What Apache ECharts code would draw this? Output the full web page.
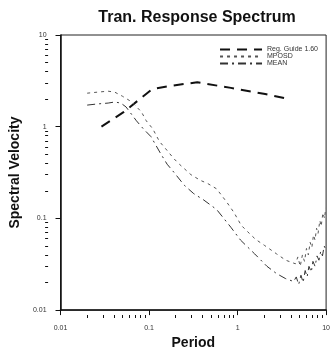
<!DOCTYPE html>
<html>
<head>
<meta charset="utf-8">
<title>Tran. Response Spectrum</title>
<script src="https://cdn.jsdelivr.net/npm/echarts@6/dist/echarts.min.js"></script>
<style>
  html, body { margin: 0; padding: 0; background: #fff; }
</style>
</head>
<body>
<div id="main" style="width:333px;height:355px;"></div>
<script type="text/javascript">
// Reg. Guide 1.60 design spectrum
var regPeriod = [0.029, 0.052, 0.076, 0.108, 0.17, 0.35, 0.84, 2.05, 3.8];
var regValue  = [1.0, 1.45, 1.95, 2.56, 2.78, 3.05, 2.65, 2.27, 2.0];

// mean plus one standard deviation
var mposdPeriod = [0.020, 0.026, 0.0345, 0.041, 0.050, 0.064, 0.082, 0.093, 0.110, 0.131,
  0.160, 0.19, 0.22, 0.297, 0.38, 0.46, 0.58, 0.76, 0.91, 1.10, 1.31, 1.60, 2.0, 2.76, 3.5, 4.5,
  4.8, 5.1, 5.4, 5.7, 6.0, 6.3, 6.6, 6.9, 7.2, 7.5, 7.8, 8.1, 8.5, 8.8, 9.2, 9.6, 9.9];
var mposdValue = [2.32, 2.38, 2.44, 2.38, 2.15, 1.86, 1.45, 1.16, 0.95, 0.69,
  0.55, 0.45, 0.39, 0.30, 0.26, 0.24, 0.21, 0.149, 0.116, 0.084, 0.071, 0.059, 0.051, 0.041, 0.035, 0.032,
  0.038, 0.030, 0.040, 0.034, 0.047, 0.040, 0.055, 0.048, 0.066, 0.058, 0.078, 0.068, 0.095, 0.082, 0.115, 0.10, 0.13];

// mean
var meanPeriod = [0.020, 0.026, 0.0345, 0.041, 0.048, 0.055, 0.072, 0.086, 0.105, 0.135,
  0.16, 0.19, 0.25, 0.32, 0.41, 0.58, 0.71, 0.84, 1.08, 1.56, 2.15, 2.76, 3.5, 4.3,
  4.6, 4.9, 5.2, 5.5, 5.8, 6.1, 6.4, 6.8, 7.1, 7.5, 7.9, 8.3, 8.7, 9.1, 9.5, 9.9];
var meanValue = [1.72, 1.77, 1.81, 1.86, 1.81, 1.64, 1.16, 0.95, 0.78, 0.51,
  0.39, 0.32, 0.23, 0.186, 0.16, 0.125, 0.098, 0.080, 0.058, 0.041, 0.030, 0.025, 0.022, 0.0205,
  0.023, 0.019, 0.024, 0.020, 0.027, 0.023, 0.030, 0.026, 0.034, 0.030, 0.039, 0.035, 0.044, 0.039, 0.050, 0.046];

// minor tick positions (log decades 0.01 .. 10)
var minorTicks = [];
[0.01, 0.1, 1].forEach(function (d) {
  for (var k = 2; k <= 9; k++) minorTicks.push(+(d * k).toPrecision(3));
});

function pairs(xs, ys) {
  return xs.map(function (x, i) { return [x, ys[i]]; });
}

var myChart = echarts.init(document.getElementById('main'));

var gridLeft = 53, gridRight = 2, gridTop = 35, gridBottom = 40;
var plotW = 333 - gridLeft - gridRight;
var plotH = 355 - gridTop - gridBottom;

var labelFont = { fontSize: 7, color: '#333', fontFamily: 'Liberation Sans' };

option = {
  animation: false,
  title: {
    text: 'Tran. Response Spectrum',
    left: 192,
    textAlign: 'center',
    top: 5,
    textStyle: { fontSize: 16, fontWeight: 'bold', color: '#111', fontFamily: 'Liberation Sans' }
  },
  legend: {
    orient: 'vertical',
    right: 10,
    top: 41,
    itemWidth: 42,
    itemHeight: 7,
    itemGap: 0,
    itemStyle: { opacity: 0 },
    textStyle: { fontSize: 7, color: '#333', fontFamily: 'Liberation Sans' },
    data: ['Reg. Guide 1.60', 'MPOSD', 'MEAN']
  },
  grid: {
    left: gridLeft, right: gridRight, top: gridTop, bottom: gridBottom,
    show: true, borderColor: '#222', borderWidth: 1
  },
  xAxis: [{
    type: 'log', min: 0.01, max: 10, logBase: 10,
    name: 'Period', nameLocation: 'middle', nameGap: 22,
    nameTextStyle: { fontSize: 14, fontWeight: 'bold', color: '#111', fontFamily: 'Liberation Sans' },
    axisLine: { lineStyle: { color: '#111', width: 1.5 } },
    axisTick: { length: 5, lineStyle: { color: '#111' } },
    axisLabel: Object.assign({ margin: 14 }, labelFont),
    splitLine: { show: false }
  }, {
    // minor ticks: a top axis pulled down onto the bottom edge
    type: 'log', min: 0.01, max: 10, logBase: 10, position: 'top', offset: -plotH,
    axisLine: { show: false },
    axisLabel: { show: false },
    axisTick: { show: true, inside: true, length: 3, customValues: minorTicks, lineStyle: { color: '#111' } },
    splitLine: { show: false }
  }],
  yAxis: [{
    type: 'log', min: 0.01, max: 10, logBase: 10,
    name: 'Spectral Velocity', nameLocation: 'middle', nameGap: 30,
    nameTextStyle: { fontSize: 14, fontWeight: 'bold', color: '#111', fontFamily: 'Liberation Sans' },
    axisLine: { lineStyle: { color: '#111', width: 1.5 } },
    axisTick: { length: 5, lineStyle: { color: '#111' } },
    axisLabel: Object.assign({ margin: 14 }, labelFont),
    splitLine: { show: false }
  }, {
    // minor ticks: a right axis pulled over onto the left edge
    type: 'log', min: 0.01, max: 10, logBase: 10, position: 'right', offset: -plotW,
    axisLine: { show: false },
    axisLabel: { show: false },
    axisTick: { show: true, inside: true, length: 3, customValues: minorTicks, lineStyle: { color: '#111' } },
    splitLine: { show: false }
  }],
  series: [{
    name: 'Reg. Guide 1.60',
    type: 'line',
    symbol: 'none',
    data: pairs(regPeriod, regValue),
    lineStyle: { color: '#111', width: 2, type: [10, 7] },
    itemStyle: { color: '#111' }
  }, {
    name: 'MPOSD',
    type: 'line',
    symbol: 'none',
    data: pairs(mposdPeriod, mposdValue),
    lineStyle: { color: '#555', width: 1, type: [3, 4] },
    itemStyle: { color: '#555' }
  }, {
    name: 'MEAN',
    type: 'line',
    symbol: 'none',
    data: pairs(meanPeriod, meanValue),
    lineStyle: { color: '#333', width: 1, type: [8, 4, 2, 4] },
    itemStyle: { color: '#333' }
  }]
};

myChart.setOption(option);
</script>
</body>
</html>
